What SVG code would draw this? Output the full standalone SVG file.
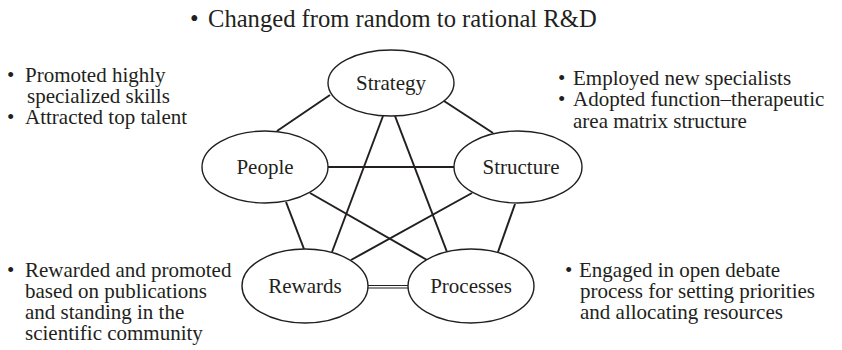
<svg xmlns="http://www.w3.org/2000/svg" width="842" height="350" viewBox="0 0 842 350">
<style>
text{font-family:"Liberation Serif","Times New Roman",serif;fill:#231f20}
.t{font-size:21px}
.h{font-size:24.6px}
.lbl{font-size:21px;text-anchor:middle}
.node ellipse{fill:#fff;stroke:#231f20;stroke-width:1.4}
#connectors line{stroke:#231f20;stroke-width:2}
#connectors .thin{stroke-width:1.2}
</style>
<rect width="842" height="350" fill="#fff"/>
<g id="connectors">
<line x1="330" y1="95" x2="277" y2="131"/>
<line x1="444" y1="101" x2="493" y2="133"/>
<line x1="383" y1="116" x2="332" y2="252"/>
<line x1="395" y1="116" x2="447" y2="252"/>
<line x1="328" y1="167" x2="454" y2="167"/>
<line x1="286" y1="202" x2="304" y2="249"/>
<line x1="310" y1="193" x2="427" y2="260"/>
<line x1="472" y1="193" x2="351" y2="260"/>
<line x1="515" y1="204" x2="498" y2="252"/>
<line class="thin" x1="367" y1="285.5" x2="409" y2="285.5"/>
<line class="thin" x1="367" y1="288" x2="409" y2="288"/>
</g>
<g id="strategy" class="node"><ellipse cx="391" cy="83" rx="63" ry="33"/><text class="lbl" x="391" y="90">Strategy</text></g>
<g id="people" class="node"><ellipse cx="265" cy="167" rx="63" ry="36"/><text class="lbl" x="265" y="174">People</text></g>
<g id="structure" class="node"><ellipse cx="518" cy="167" rx="64" ry="36"/><text class="lbl" x="521" y="174">Structure</text></g>
<g id="rewards" class="node"><ellipse cx="305" cy="286" rx="63" ry="37"/><text class="lbl" x="305" y="293">Rewards</text></g>
<g id="processes" class="node"><ellipse cx="471" cy="286" rx="63" ry="37"/><text class="lbl" x="471" y="293">Processes</text></g>
<g id="note-strategy"><text class="h" y="27"><tspan x="190">•</tspan><tspan x="208">Changed from random to rational R&amp;D</tspan></text></g>
<g id="note-people">
<text class="t" y="82"><tspan x="7">•</tspan><tspan x="25">Promoted highly</tspan></text>
<text class="t" x="27" y="103">specialized skills</text>
<text class="t" y="124"><tspan x="7">•</tspan><tspan x="25">Attracted top talent</tspan></text>
</g>
<g id="note-structure">
<text class="t" y="85"><tspan x="558">•</tspan><tspan x="573">Employed new specialists</tspan></text>
<text class="t" y="106"><tspan x="558">•</tspan><tspan x="573">Adopted function–therapeutic</tspan></text>
<text class="t" x="573" y="128">area matrix structure</text>
</g>
<g id="note-rewards">
<text class="t" y="277"><tspan x="7">•</tspan><tspan x="25">Rewarded and promoted</tspan></text>
<text class="t" x="25" y="298">based on publications</text>
<text class="t" x="25" y="319">and standing in the</text>
<text class="t" x="25" y="340">scientific community</text>
</g>
<g id="note-processes">
<text class="t" y="277"><tspan x="565">•</tspan><tspan x="579">Engaged in open debate</tspan></text>
<text class="t" x="580" y="298">process for setting priorities</text>
<text class="t" x="580" y="319">and allocating resources</text>
</g>
</svg>
